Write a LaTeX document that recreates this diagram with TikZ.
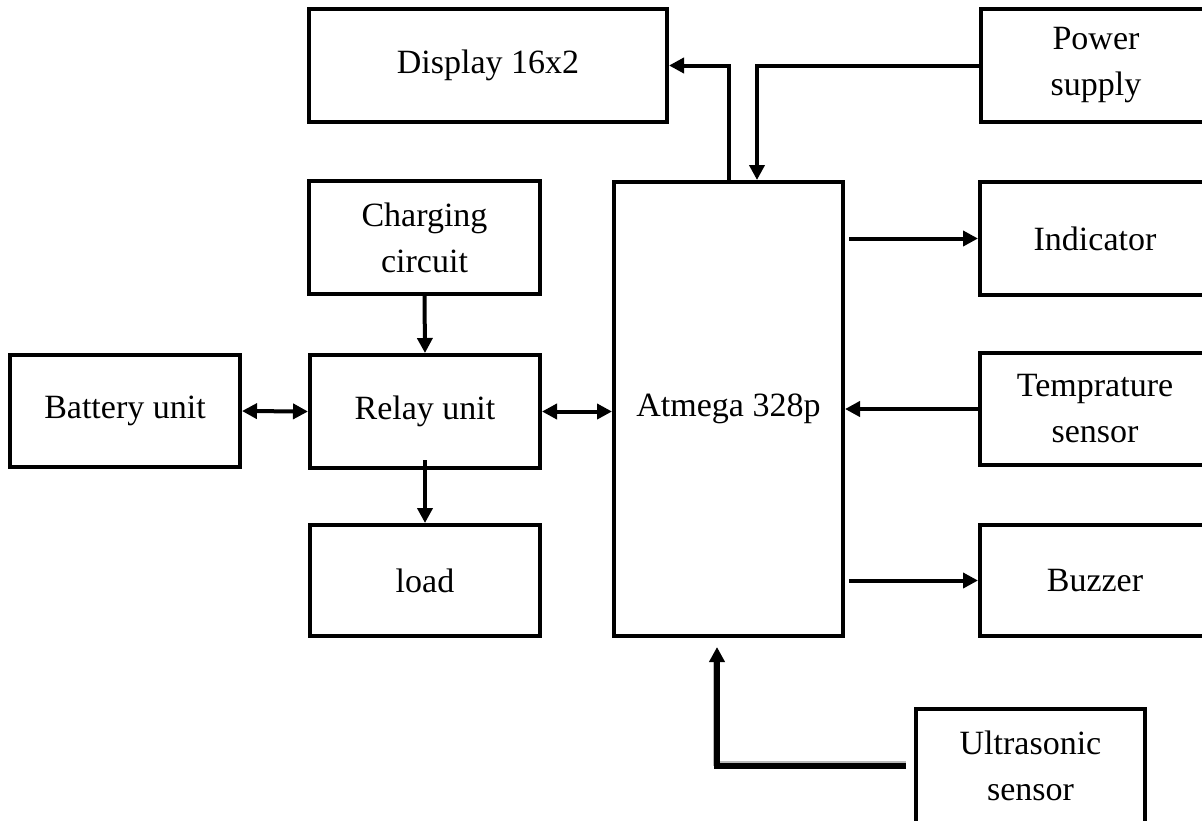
\documentclass[tikz,border=0pt]{standalone}
\usepackage{fontspec}
\setmainfont{Liberation Serif}
\usetikzlibrary{arrows.meta}
\begin{document}
\begin{tikzpicture}[x=1pt,y=-1pt,
  box/.style={draw, line width=4pt, inner sep=0pt, align=center,
    font=\fontsize{34}{46}\selectfont},
  tip/.tip={Triangle[length=15pt,width=15pt]},
  arr/.style={line width=4pt, -tip},
  darr/.style={line width=4pt, tip-tip}]
\useasboundingbox (0,0) rectangle (1202,820);
\fill[white] (0,0) rectangle (1202,820);
\node[box, minimum width=358pt, minimum height=113pt] (disp) at (488,65.5) {Display 16x2};
\node[box, minimum width=234pt, minimum height=113pt] (power) at (1098,65.5) {\hspace*{-4pt}Power\\\hspace*{-4pt}supply};
\node[box, minimum width=231pt, minimum height=113pt] (charge) at (424.5,237.5) {Charging\\circuit};
\node[box, minimum width=229pt, minimum height=454pt] (atm) at (728.5,409) {Atmega 328p};
\node[box, minimum width=234pt, minimum height=113pt] (ind) at (1097,238.5) {\hspace*{-4pt}Indicator};
\node[box, minimum width=230pt, minimum height=112pt] (batt) at (125,411) {Battery unit};
\node[box, minimum width=230pt, minimum height=113pt] (relay) at (425,411.5) {Relay unit};
\node[box, minimum width=234pt, minimum height=112pt] (temp) at (1097,409) {\hspace*{-4pt}Temprature\\\hspace*{-4pt}sensor};
\node[box, minimum width=230pt, minimum height=111pt] (load) at (425,580.5) {load};
\node[box, minimum width=234pt, minimum height=111pt] (buzz) at (1097,580.5) {\hspace*{-4pt}Buzzer};
\node[box, minimum width=229pt, minimum height=114pt] (ultra) at (1030.5,766) {Ultrasonic\\sensor};
% connectors
\draw[arr] (atm.north) -- (atm.north |- disp.east) -- (disp.east);
\draw[arr] (power.west) -| ([xshift=28.5pt]atm.north);
\draw[arr, shorten <=4pt] (atm.east |- ind.west) -- (ind.west);
\draw[arr] (temp.west) -- (temp.west -| atm.east);
\draw[arr, shorten <=4pt] (atm.east |- buzz.west) -- (buzz.west);
\draw[arr] (charge.south) -- (relay.north);
\draw[darr] (batt.east) -- (relay.west);
\draw[darr] (relay.east) -- (relay.east -| atm.west);
\coordinate (rl) at (425,460);
\draw[arr] (rl) -- (load.north);
% ultrasonic connector with shadow
\coordinate (ubend) at (717,766);
\draw[line width=5pt, gray!55, shorten <=8pt, shorten >=22pt] ([yshift=3pt]ultra.west) -- ([xshift=-1.5pt,yshift=3pt]ubend) -- ([xshift=-1.5pt]ubend |- atm.south);
\draw[line width=6pt, shorten <=8pt, shorten >=9pt, -tip] (ultra.west) -- (ubend) -- (ubend |- atm.south);
\end{tikzpicture}
\end{document}
